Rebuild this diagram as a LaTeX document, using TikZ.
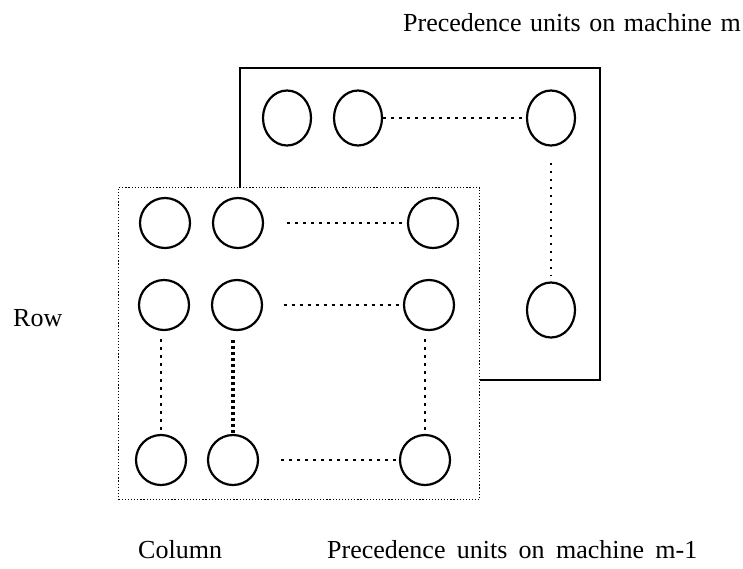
\documentclass[tikz,border=0pt]{standalone}
\usepackage{fontspec}
\setmainfont{Liberation Serif}
\usetikzlibrary{shapes.geometric}

\tikzset{
  unit/.style={draw, circle, line width=2.2pt, minimum size=50pt, inner sep=0pt},
  backunit/.style={draw, ellipse, line width=2.2pt, minimum width=48pt, minimum height=55pt, inner sep=0pt},
  dotline/.style={line width=2.8pt, dash pattern=on 2.8pt off 5.2pt},
  densedots/.style={line width=3.2pt, dash pattern=on 3.2pt off 2.8pt},
  frame/.style={draw, line width=2.2pt},
  dotframe/.style={draw, fill=white, line width=1.2pt, dash pattern=on 1.2pt off 1.9pt},
  label/.style={font=\fontsize{26}{30}\selectfont, inner sep=0pt, anchor=base west}
}

\begin{document}
\begin{tikzpicture}[x=1pt, y=-1pt]
  \useasboundingbox (0,0) rectangle (743,568);

  % units on machine m (behind)
  \node[frame, minimum width=360pt, minimum height=312pt, anchor=north west, inner sep=0pt] (backbox) at (239,67) {};
  \node[backunit] (b1) at (287,118) {};
  \node[backunit] (b2) at (358,118) {};
  \node[backunit] (b3) at (551,118) {};
  \node[backunit] (b4) at (551,310) {};
  \draw[dotline] (b2) -- (b3);
  \draw[dotline, shorten <=16pt, shorten >=5pt] (b3) -- (b4);

  % units on machine m-1 (in front)
  \node[dotframe, minimum width=361pt, minimum height=312pt, anchor=north west, inner sep=0pt] (frontbox) at (118,187) {};
  \node[unit] (a11) at (165,223) {};
  \node[unit] (a12) at (238,223) {};
  \node[unit] (a13) at (433,223) {};
  \node[unit] (a21) at (164,305) {};
  \node[unit] (a22) at (237,305) {};
  \node[unit] (a23) at (429,305) {};
  \node[unit] (a31) at (161,460) {};
  \node[unit] (a32) at (233,460) {};
  \node[unit] (a33) at (425,460) {};

  \draw[dotline, shorten <=23pt] (a12) -- (a13);
  \draw[dotline, shorten <=21pt] (a22) -- (a23);
  \draw[dotline, shorten <=22pt] (a32) -- (a33);
  \draw[dotline, shorten <=8pt] (a21.south -| a31.north) -- (a31.north);
  \draw[densedots, shorten <=9pt] (a22.south -| a32.north) -- (a32.north);
  \draw[dotline, shorten <=8pt] (a23.south -| a33.north) -- (a33.north);

  % labels
  \node[label] (tm) at (403,31) {\spaceskip=8.6pt Precedence units on machine m};
  \node[label] (row) at (13,326) {Row};
  \node[label] (col) at (138,558) {Column};
  \node[label] (tm1) at (327,558) {\spaceskip=11.3pt Precedence units on machine m-1};
\end{tikzpicture}
\end{document}
